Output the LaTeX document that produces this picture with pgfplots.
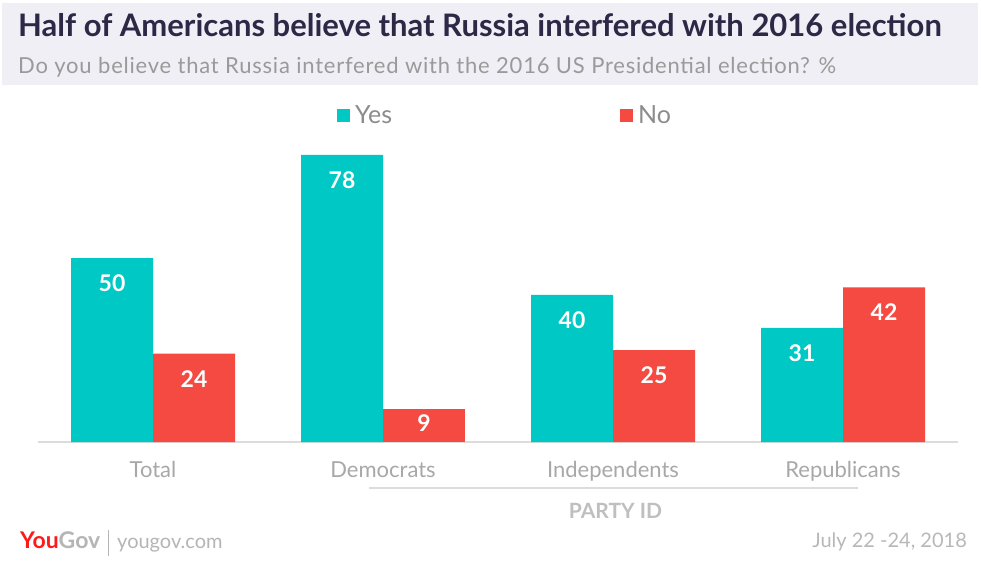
\documentclass[border=0pt]{standalone}
\usepackage{pgfplots}
\pgfplotsset{compat=1.18}
\usepackage{fontspec}
\setmainfont{Lato}
\definecolor{yesc}{HTML}{00C8C4}
\definecolor{noc}{HTML}{F44A41}
\definecolor{titlec}{HTML}{2E2847}
\definecolor{bandc}{HTML}{EFEFF5}
\definecolor{subc}{HTML}{9A9A9A}
\definecolor{legc}{HTML}{8C8C8C}
\definecolor{labc}{HTML}{A8A8A8}
\definecolor{axisc}{HTML}{DCDCDC}
\definecolor{partyc}{HTML}{BFBFBF}
\definecolor{datec}{HTML}{B8B8B8}
\definecolor{ygred}{HTML}{FF1A1A}
\definecolor{yggray}{HTML}{B5B5B5}
\begin{document}
\begin{tikzpicture}
\useasboundingbox (0pt,0pt) rectangle (981pt,562pt);
\fill[white] (0pt,0pt) rectangle (981pt,562pt);
\fill[bandc] (2pt,477pt) rectangle (978pt,559pt);
\node[anchor=base west, inner sep=0pt, text=titlec, font=\fontsize{31}{34}\selectfont\bfseries] at (18pt,525pt) {Half of Americans believe that Russia interfered with 2016 election};
\node[anchor=base west, inner sep=0pt, text=subc, font=\fontsize{22}{26}\selectfont\addfontfeature{LetterSpace=3.5}] at (18pt,488pt) {Do you believe that Russia interfered with the 2016 US Presidential election? \%};
\begin{axis}[
  at={(38pt,120pt)}, anchor=south west,
  scale only axis, width=920pt, height=294.4pt,
  xmin=-0.5, xmax=3.5, ymin=0, ymax=80,
  ybar, bar width=82pt,
  axis x line=bottom, axis y line=none,
  x axis line style={draw=axisc, line width=2.5pt, -},
  xtick={0,1,2,3},
  xticklabels={Total,Democrats,Independents,Republicans},
  major tick length=0pt,
  xticklabel style={text=labc, font=\fontsize{22}{26}\selectfont, anchor=base, yshift=-35pt},
  ytick=\empty,
  clip=false,
  /pgf/number format/assume math mode=true,
  nodes near coords,
  every node near coord/.append style={anchor=north, text=white, font=\fontsize{23}{27}\selectfont\bfseries, yshift=-13pt},
  legend columns=2,
  legend style={draw=none, fill=none, at={(0.325,1.109)}, anchor=west, inner sep=0pt,
    font=\fontsize{25}{29}\selectfont, text=legc,
    nodes={inner sep=2pt},
    /tikz/every odd column/.append style={column sep=3pt},
    /tikz/every even column/.append style={column sep=226pt}},
  legend image code/.code={\fill[#1, draw=none] (0pt,-6.5pt) rectangle (13pt,6.5pt);},
]
\addplot[fill=yesc, draw=none, bar shift=-41pt] coordinates {(0,50) (1,78) (2,40) (3,31)};
\addplot[fill=noc, draw=none, bar shift=41pt] coordinates {(0,24) (2,25) (3,42)};
\addplot[fill=noc, draw=none, bar shift=41pt, forget plot,
  every node near coord/.append style={yshift=11pt}] coordinates {(1,9)};
\legend{Yes,No}
\end{axis}
\draw[axisc, line width=2pt] (369pt,74.3pt) -- (858pt,74.3pt);
\node[anchor=base, inner sep=0pt, text=partyc, font=\fontsize{21}{25}\selectfont\bfseries] at (615.5pt,44pt) {PARTY ID};
\node[anchor=base west, inner sep=0pt, font=\fontsize{23}{27}\selectfont\bfseries] at (20pt,14pt) {\textcolor{ygred}{You}\textcolor{yggray}{Gov}};
\draw[yggray, line width=1pt] (108pt,6pt) -- (108pt,32pt);
\node[anchor=base west, inner sep=0pt, text=yggray, font=\fontsize{20}{24}\selectfont] at (117pt,14pt) {yougov.com};
\node[anchor=base east, inner sep=0pt, text=datec, font=\fontsize{20}{24}\selectfont] at (967pt,15pt) {July 22 -24, 2018};
\end{tikzpicture}
\end{document}
